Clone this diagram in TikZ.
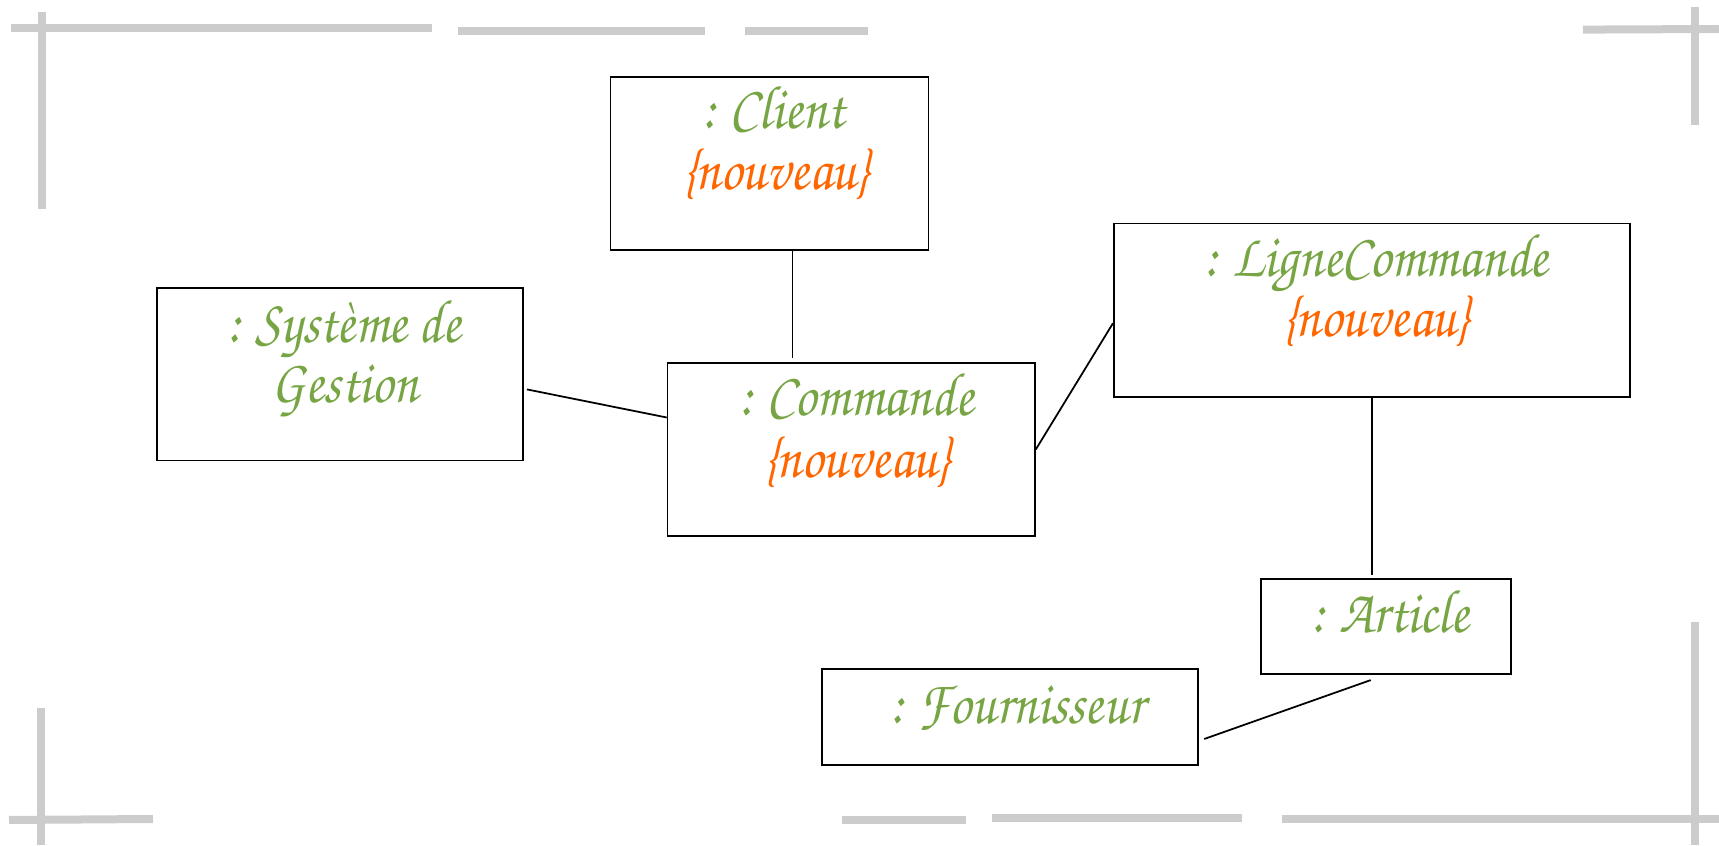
\documentclass[tikz,border=0pt]{standalone}
\usepackage[T1,TU]{fontenc}
\usepackage{tikz}

\definecolor{objgreen}{RGB}{119,165,68}
\definecolor{objorange}{RGB}{255,102,0}
\definecolor{framegray}{RGB}{204,204,204}

\newcommand{\objfont}{\fontencoding{T1}\fontfamily{pzc}\fontshape{it}\fontsize{17.5}{18}\selectfont}

\tikzset{
  objbox/.style={draw, line width=0.5pt, inner sep=0pt},
  objname/.style={text=objgreen, font=\objfont, anchor=base, inner sep=0pt, xscale=0.88},
  objstate/.style={text=objorange, font=\objfont, anchor=base, inner sep=0pt, xscale=0.88},
  assoc/.style={draw, line width=0.5pt},
  framebar/.style={draw=framegray, line width=0.08cm}
}

\begin{document}
\begin{tikzpicture}
                \useasboundingbox (0,0) rectangle (17.19,8.45);

                % frame marks
                \draw[framebar] (0.11,8.165) -- (4.32,8.165);
                \draw[framebar] (0.417,8.33) -- (0.417,6.36);
                \draw[framebar] (4.58,8.143) -- (7.05,8.143);
                \draw[framebar] (7.45,8.143) -- (8.68,8.143);
                \draw[framebar] (15.83,8.154) -- (17.19,8.16);
                \draw[framebar] (16.95,8.384) -- (16.95,7.2);
                \draw[framebar] (0.41,1.37) -- (0.41,0);
                \draw[framebar] (0.09,0.25) -- (1.53,0.26);
                \draw[framebar] (8.42,0.25) -- (9.66,0.25);
                \draw[framebar] (9.92,0.27) -- (12.42,0.27);
                \draw[framebar] (12.82,0.26) -- (17.19,0.26);
                \draw[framebar] (16.95,2.23) -- (16.95,0);

                % objects
                \node[objbox, minimum width=3.18cm, minimum height=1.733cm] (client) at (7.696,6.817) {};
                \node[objbox, minimum width=3.662cm, minimum height=1.722cm] (systeme) at (3.399,4.706) {};
                \node[objbox, minimum width=3.673cm, minimum height=1.732cm] (commande) at (8.5125,3.955) {};
                \node[objbox, minimum width=5.163cm, minimum height=1.733cm] (ligne) at (13.72,5.3475) {};
                \node[objbox, minimum width=2.499cm, minimum height=0.954cm] (article) at (13.8575,2.185) {};
                \node[objbox, minimum width=3.761cm, minimum height=0.964cm] (fournisseur) at (10.1025,1.28) {};

                \node[objname] (clientname) at (7.73,7.16) {: Client};
                \node[objstate] (clientstate) at (7.76,6.553) {\{nouveau\}};
                \node[objname] (systemename) at (3.44,5.03) {: Système de};
                \node[objname] (systemename2) at (3.45,4.43) {Gestion};
                \node[objname] (commandename) at (8.558,4.30) {: Commande};
                \node[objstate] (commandestate) at (8.57,3.67) {\{nouveau\}};
                \node[objname] (lignename) at (13.76,5.69) {: LigneCommande};
                \node[objstate] (lignestate) at (13.76,5.08) {\{nouveau\}};
                \node[objname] (articlename) at (13.9,2.124) {: Article};
                \node[objname] (fournisseurname) at (10.17,1.214) {: Fournisseur};

                % links
                \draw[assoc] ([xshift=2.3mm]client.south) -- ([xshift=2.3mm, yshift=0.4mm]client.south |- commande.north);
                \draw[assoc] ([xshift=0.3mm, yshift=-1.5mm]systeme.east) -- ([yshift=3.2mm]commande.west);
                \draw[assoc] (commande.east) -- ([yshift=-1.3mm]ligne.west);
                \draw[assoc] (ligne.south) -- ([yshift=0.3mm]ligne.south |- article.north);
                \draw[assoc] ([xshift=-1.5mm, yshift=-0.5mm]article.south) -- ([xshift=0.5mm, yshift=-2.2mm]fournisseur.east);

            \end{tikzpicture}
\end{document}
